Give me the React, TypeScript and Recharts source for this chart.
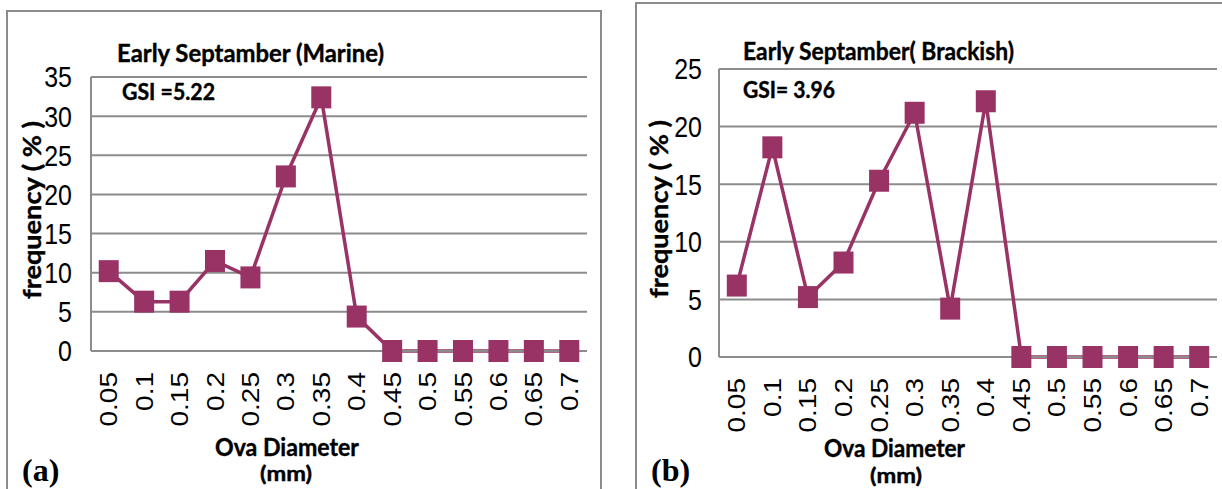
import { LineChart, Line, XAxis, YAxis, CartesianGrid } from "recharts";

// ova diameter classes (mm)
const diameters = ["0.05", "0.1", "0.15", "0.2", "0.25", "0.3", "0.35", "0.4", "0.45", "0.5", "0.55", "0.6", "0.65", "0.7"];

// frequency (%)
const marineFreq = [10.2, 6.3, 6.3, 11.5, 9.4, 22.3, 32.4, 4.4, 0, 0, 0, 0, 0, 0];
const brackishFreq = [6.2, 18.2, 5.2, 8.2, 15.3, 21.2, 4.2, 22.2, 0, 0, 0, 0, 0, 0];

const marineTicks = [0, 5, 10, 15, 20, 25, 30, 35];
const brackishTicks = [0, 5, 10, 15, 20, 25];

const PLUM = "#993366";
const GRID = "#8c8c8c";
const TICK_FONT = "'Liberation Sans', Arial, sans-serif";
const LABEL_FONT = "Lato, 'Noto Sans', sans-serif";

const marineData = diameters.map((d, i) => ({ d, v: marineFreq[i] }));
const brackishData = diameters.map((d, i) => ({ d, v: brackishFreq[i] }));

const square = (props: any) => {
  const { cx, cy, index } = props;
  if (cx == null || cy == null) return <g key={index} />;
  return <rect key={index} x={cx - 10} y={cy - 11} width={20} height={22} fill={PLUM} />;
};

const makeYTick = (axisX: number, gap: number) => (props: any) => {
  const tx = axisX - gap;
  return (
    <text
      key={props.index}
      x={tx}
      y={props.y}
      dy="0.36em"
      textAnchor="end"
      fontSize={29}
      fontFamily={TICK_FONT}
      fill="#000"
      transform={`translate(${tx} 0) scale(0.86 1) translate(${-tx} 0)`}
    >
      {props.payload.value}
    </text>
  );
};

const makeXTick = (axisY: number, gap: number) => (props: any) => {
  const ty = axisY + gap;
  return (
    <g key={props.index} transform={`translate(${props.x} ${ty}) scale(0.87 1) rotate(-90)`}>
      <text x={0} y={0} dy="0.35em" textAnchor="end" fontSize={28} fontFamily={TICK_FONT} fill="#000">
        {props.payload.value}
      </text>
    </g>
  );
};

interface PanelProps {
  data: { d: string; v: number }[];
  ticks: number[];
  left: number;
  width: number;
  top: number;
  right: number;
  axisW: number;
  axisH: number;
  tickGap: number;
}

function Panel({ data, ticks, left, width, top, right, axisW, axisH, tickGap }: PanelProps) {
  const height = 489;
  const plotW = width - axisW - right;
  const pad = plotW / 28;
  const axisY = height - axisH;
  return (
    <div style={{ position: "absolute", left, top: 0 }}>
      <LineChart width={width} height={height} data={data} margin={{ top, right, bottom: 0, left: 0 }}>
        <CartesianGrid vertical={false} stroke={GRID} strokeWidth={2} />
        <XAxis
          dataKey="d"
          type="category"
          interval={0}
          height={axisH}
          padding={{ left: pad, right: pad }}
          tickLine={false}
          axisLine={{ stroke: GRID, strokeWidth: 2 }}
          tick={makeXTick(axisY, 21)}
        />
        <YAxis
          type="number"
          domain={[0, ticks[ticks.length - 1]]}
          ticks={ticks}
          interval={0}
          width={axisW}
          tickLine={false}
          axisLine={{ stroke: GRID, strokeWidth: 2 }}
          tick={makeYTick(axisW, tickGap)}
        />
        <Line
          type="linear"
          dataKey="v"
          stroke={PLUM}
          strokeWidth={3.5}
          dot={square}
          activeDot={false}
          isAnimationActive={false}
        />
      </LineChart>
    </div>
  );
}

export default function App() {
  const bold = { fontFamily: LABEL_FONT, fontWeight: 700, fill: "#000", stroke: "#000", strokeWidth: 0.4 } as const;
  const serif = { fontFamily: "'Liberation Serif', 'Times New Roman', serif", fontWeight: 700, fill: "#000" } as const;
  return (
    <div style={{ position: "absolute", left: 0, top: 0, width: 1222, height: 489, background: "#fff", overflow: "hidden" }}>
      <Panel data={marineData} ticks={marineTicks} left={0} width={600} top={77} right={13} axisW={91} axisH={138} tickGap={19} />
      <Panel data={brackishData} ticks={brackishTicks} left={636} width={586} top={69} right={5} axisW={83} axisH={132} tickGap={17} />
      <svg width={1222} height={489} style={{ position: "absolute", left: 0, top: 0, pointerEvents: "none" }}>
        <path d="M7 489 V11 H601 V489" fill="none" stroke={GRID} strokeWidth={2} />
        <path d="M636 489 V3 H1222" fill="none" stroke={GRID} strokeWidth={2} />

        <text x={117} y={62} fontSize={25} textLength={267} lengthAdjust="spacingAndGlyphs" {...bold}>Early Septamber (Marine)</text>
        <text x={122} y={100} fontSize={22} textLength={93} lengthAdjust="spacingAndGlyphs" {...bold}>GSI =5.22</text>
        <text x={215} y={456} fontSize={24} textLength={144} lengthAdjust="spacingAndGlyphs" {...bold}>Ova Diameter</text>
        <text x={260} y={481} fontSize={20} textLength={52} lengthAdjust="spacingAndGlyphs" {...bold}>(mm)</text>
        <text transform="translate(41 210) rotate(-90)" textAnchor="middle" fontSize={25} textLength={178} lengthAdjust="spacingAndGlyphs" {...bold}>frequency ( % )</text>
        <text x={22} y={481} fontSize={32} {...serif}>(a)</text>

        <text x={743} y={60} fontSize={25} textLength={271} lengthAdjust="spacingAndGlyphs" {...bold}>Early Septamber( Brackish)</text>
        <text x={743} y={98} fontSize={22} textLength={92} lengthAdjust="spacingAndGlyphs" {...bold}>GSI= 3.96</text>
        <text x={824} y={457} fontSize={24} textLength={141} lengthAdjust="spacingAndGlyphs" {...bold}>Ova Diameter</text>
        <text x={870} y={483} fontSize={20} textLength={52} lengthAdjust="spacingAndGlyphs" {...bold}>(mm)</text>
        <text transform="translate(668 209) rotate(-90)" textAnchor="middle" fontSize={25} textLength={178} lengthAdjust="spacingAndGlyphs" {...bold}>frequency ( % )</text>
        <text x={651} y={481} fontSize={32} {...serif}>(b)</text>
      </svg>
    </div>
  );
}
